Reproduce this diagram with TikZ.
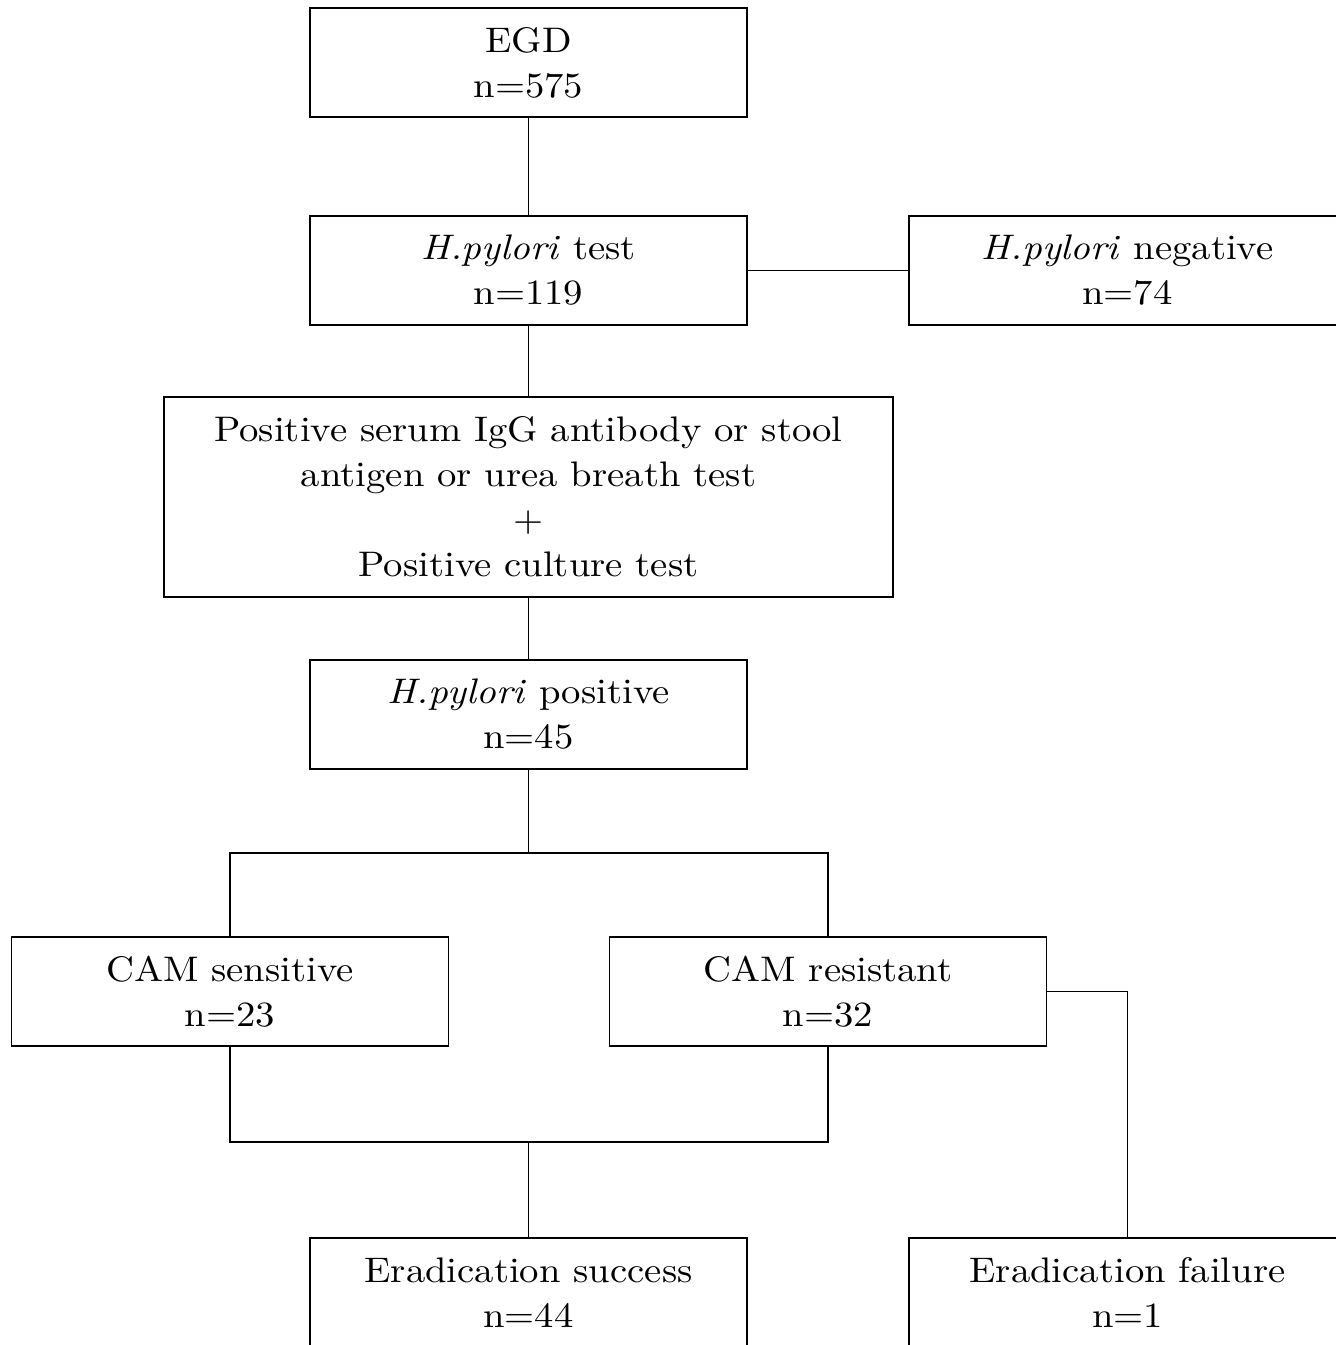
\documentclass[tikz,border=0pt]{standalone}
\usepackage{fontspec}
\setmainfont{lmroman10}[Extension=.otf, UprightFont=*-regular, ItalicFont=*-italic, BoldFont=*-bold, FakeStretch=1.09]
\begin{document}
\begin{tikzpicture}[x=1pt,y=-1pt,
  box/.style={draw,line width=1.4pt,minimum width=437pt,minimum height=109pt,align=center,inner sep=0pt,font=\fontsize{35.5}{45}\selectfont},
  conn/.style={line width=1.1pt}]
\useasboundingbox (0,0) rectangle (1336,1345);
\clip (0,0) rectangle (1336,1345);
\fill[white] (0,0) rectangle (1336,1345);
\node[box] (egd) at (528.5,62.5) {EGD\\n=575};
\node[box] (test) at (528.5,270.5) {\textit{H.pylori} test\\n=119};
\node[box] (neg) at (1127.5,270.5) {\textit{H.pylori} negative\\n=74};
\node[box,minimum width=729pt,minimum height=200pt] (serum) at (528.5,497) {Positive serum IgG antibody or stool\\antigen or urea breath test\\+\\Positive culture test};
\node[box] (hpos) at (528.5,714.5) {\textit{H.pylori} positive\\n=45};
\node[box] (sens) at (230,991.5) {CAM sensitive\\n=23};
\node[box] (res) at (828,991.5) {CAM resistant\\n=32};
\node[box] (succ) at (528.5,1292.5) {Eradication success\\n=44};
\node[box] (fail) at (1127.5,1292.5) {Eradication failure\\n=1};
\coordinate (j1) at (528.5,853);
\coordinate (j2) at (528.5,1142);
\draw[conn] (egd) -- (test);
\draw[conn] (test) -- (neg);
\draw[conn] (test) -- (serum);
\draw[conn] (serum) -- (hpos);
\draw[conn] (hpos) -- (j1);
\draw[conn] (sens.north) |- (j1) -| (res.north);
\draw[conn] (sens.south) |- (j2) -| (res.south);
\draw[conn] (j2) -- (succ);
\draw[conn] (res.east) -| (fail.north);
\end{tikzpicture}
\end{document}
